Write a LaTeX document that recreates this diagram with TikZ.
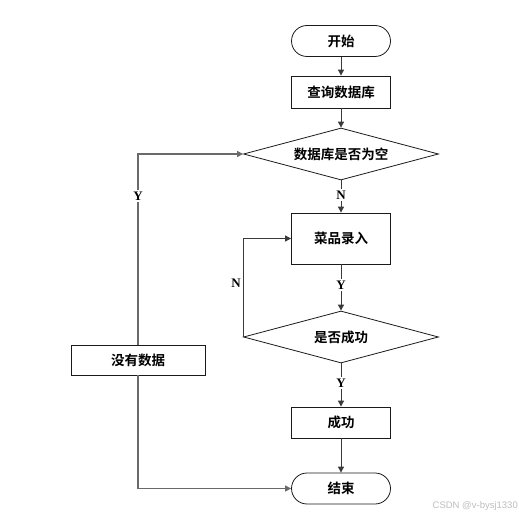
\documentclass[tikz,border=0pt]{standalone}
\usepackage{fontspec}
\setmainfont{Liberation Serif}
\newfontfamily\cjk{Noto Sans CJK SC}[BoldFont={Noto Sans CJK SC Bold}]
\newfontfamily\wmfont{Liberation Sans}
\usepackage{tikz}
\usetikzlibrary{arrows.meta,shapes.geometric}

\begin{document}
\begin{tikzpicture}[x=1pt,y=-1pt,font=\cjk\bfseries\fontsize{13.5}{15}\selectfont]

\definecolor{flowink}{HTML}{1A1A1A}
\definecolor{flowline}{HTML}{3A3A3A}
\definecolor{flowloop}{HTML}{6A6A6A}
\definecolor{flowmark}{HTML}{BDBDBD}

\tikzset{
  terminal/.style={
    draw=flowink, fill=white, rounded corners=15.5pt,
    minimum width=99pt, minimum height=31pt, inner sep=0pt, line width=0.8pt
  },
  process/.style={
    draw=flowink, fill=white, rectangle,
    minimum width=99pt, minimum height=32pt, inner sep=0pt, line width=0.8pt
  },
  decision/.style={
    draw=flowink, fill=white, diamond, aspect=3.75,
    minimum width=195pt, minimum height=52pt, inner sep=0pt, line width=0.8pt
  },
  flowedge/.style={
    draw=flowline, line width=1pt, -{Triangle[length=6pt,width=6pt]}
  },
  loopedge/.style={flowedge, draw=flowloop, line width=1.2pt},
  branchlabel/.style={
    font=\bfseries\fontsize{13}{15}\selectfont, fill=white, inner sep=1.5pt
  }
}

\useasboundingbox (0,0) rectangle (519,518);

% main column
\node[terminal]                          (start)   at (341,41)  {开始};
\node[process]                           (query)   at (341,92)  {查询数据库};
\node[decision]                          (isempty) at (341,154) {数据库是否为空};
\node[process, minimum height=51pt]      (entry)   at (341,238.5) {菜品录入};
\node[decision]                          (check)   at (341,337) {是否成功};
\node[process, minimum height=31pt]      (okbox)   at (341,422.5) {成功};
\node[terminal]                          (finish)  at (341,488.5) {结束};

% side branch
\node[process, minimum width=134pt, minimum height=30pt] (nodata) at (138,360) {没有数据};

\draw[flowedge] (start) -- (query);
\draw[flowedge] (query) -- (isempty);
\draw[flowedge] (isempty) -- node[branchlabel, pos=0.45] {N} (entry);
\draw[flowedge] (entry) -- node[branchlabel, pos=0.45] {Y} (check);
\draw[flowedge] (check) -- node[branchlabel, pos=0.45] {Y} (okbox);
\draw[flowedge] (okbox) -- (finish);

% retry loop
\draw[flowedge] (check.west) |- (entry.west);
\node[font=\bfseries\fontsize{13}{15}\selectfont, anchor=east, inner sep=1pt]
  (retry) at (242,283) {N};

% empty database
\draw[loopedge] (nodata.north) |- node[branchlabel, pos=0.39] {Y} (isempty.west);
\draw[loopedge] (nodata.south) |- (finish.west);

\node[font=\wmfont\fontsize{9.5}{11}\selectfont, text=flowmark, anchor=east,
  inner sep=0pt] (watermark) at (518,506) {CSDN @v-bysj1330};

\end{tikzpicture}
\end{document}
